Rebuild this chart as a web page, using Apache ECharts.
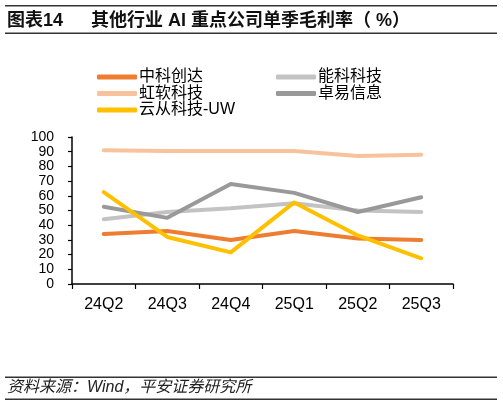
<!DOCTYPE html>
<html><head><meta charset="utf-8">
<script src="https://cdn.jsdelivr.net/npm/echarts@6/dist/echarts.min.js"></script>
<style>html,body{margin:0;padding:0;background:#fff;}#c{width:503px;height:406px;}</style>
</head><body><div id="c"></div>
<script>
var categories = ['24Q2','24Q3','24Q4','25Q1','25Q2','25Q3'];
var zhongke = [34, 36, 30, 36, 31, 30];
var nengke = [44, 49, 51.5, 55, 50, 49];
var hongruan = [91, 90.5, 90.5, 90.5, 87, 88];
var zhuoyi = [52.5, 45, 68, 62, 49, 59];
var yuncong = [62.5, 32, 21.5, 55.5, 33, 17.5];
var yTicks = [0, 100, 10];

var FONT = '"Liberation Sans", Arial, "Noto Sans CJK SC", sans-serif';
var chart = echarts.init(document.getElementById('c'));
function s(name, data, color) {
  return {name: name, type: 'line', data: data, symbol: 'none', smooth: false,
    lineStyle: {width: 4, color: color, cap: 'round', join: 'round'}, itemStyle: {color: color}};
}
var legendText = {fontSize: 16, color: '#000', fontFamily: FONT, lineHeight: 15, padding: [0,0,0,-3]};
chart.setOption({
  animation: false,
  textStyle: {fontFamily: FONT},
  grid: {left: 72, right: 50, top: 137, bottom: 122},
  legend: [{
    left: 92, top: 64, orient: 'vertical', itemGap: 0.5, icon: 'roundRect',
    itemWidth: 40, itemHeight: 5, textStyle: legendText,
    data: ['中科创达', '虹软科技', '云从科技-UW']
  }, {
    left: 271, top: 64, orient: 'vertical', itemGap: 0.5, icon: 'roundRect',
    itemWidth: 40, itemHeight: 5, textStyle: legendText,
    data: ['能科科技', '卓易信息']
  }],
  xAxis: {
    type: 'category', data: categories, boundaryGap: true,
    axisLine: {lineStyle: {color: '#000', width: 1.5}},
    axisTick: {show: true, length: 5, inside: false, lineStyle: {color: '#000', width: 1.2}},
    axisLabel: {fontSize: 16, color: '#000', margin: 13, fontFamily: FONT}
  },
  yAxis: {
    type: 'value', min: yTicks[0], max: yTicks[1], interval: yTicks[2],
    splitLine: {show: false},
    axisLine: {show: true, lineStyle: {color: '#000', width: 1.5}},
    axisTick: {show: true, length: 4, lineStyle: {color: '#000', width: 1.2}},
    axisLabel: {fontSize: 14, color: '#000', margin: 18, fontFamily: FONT, lineHeight: 12,
      hideOverlap: false}
  },
  series: [
    s('中科创达', zhongke, '#ED7D31'),
    s('能科科技', nengke, '#C3C3C3'),
    s('虹软科技', hongruan, '#F8C39C'),
    s('卓易信息', zhuoyi, '#999999'),
    s('云从科技-UW', yuncong, '#FFC000')
  ],
  graphic: [
    {type: 'rect', shape: {x: 5, y: 5, width: 492, height: 1.6}, style: {fill: '#333'}},
    {type: 'text', left: 7, top: 12, style: {text: '图表14', fontSize: 18, fontWeight: 'bold', fill: '#111', fontFamily: FONT}},
    {type: 'text', left: 91, top: 12, style: {text: '其他行业 AI 重点公司单季毛利率（ %）', fontSize: 18, fontWeight: 'bold', fill: '#111', fontFamily: FONT}},
    {type: 'rect', shape: {x: 5, y: 32.5, width: 492, height: 1.6}, style: {fill: '#333'}},
    {type: 'rect', shape: {x: 5, y: 376.5, width: 492, height: 1.4}, style: {fill: '#333'}},
    {type: 'text', left: 7, top: 380, style: {text: '资料来源：Wind，平安证券研究所', fontSize: 16, fontStyle: 'italic', fill: '#222', fontFamily: FONT}},
    {type: 'rect', shape: {x: 5, y: 398.5, width: 492, height: 1.4}, style: {fill: '#333'}}
  ]
});
</script></body></html>
